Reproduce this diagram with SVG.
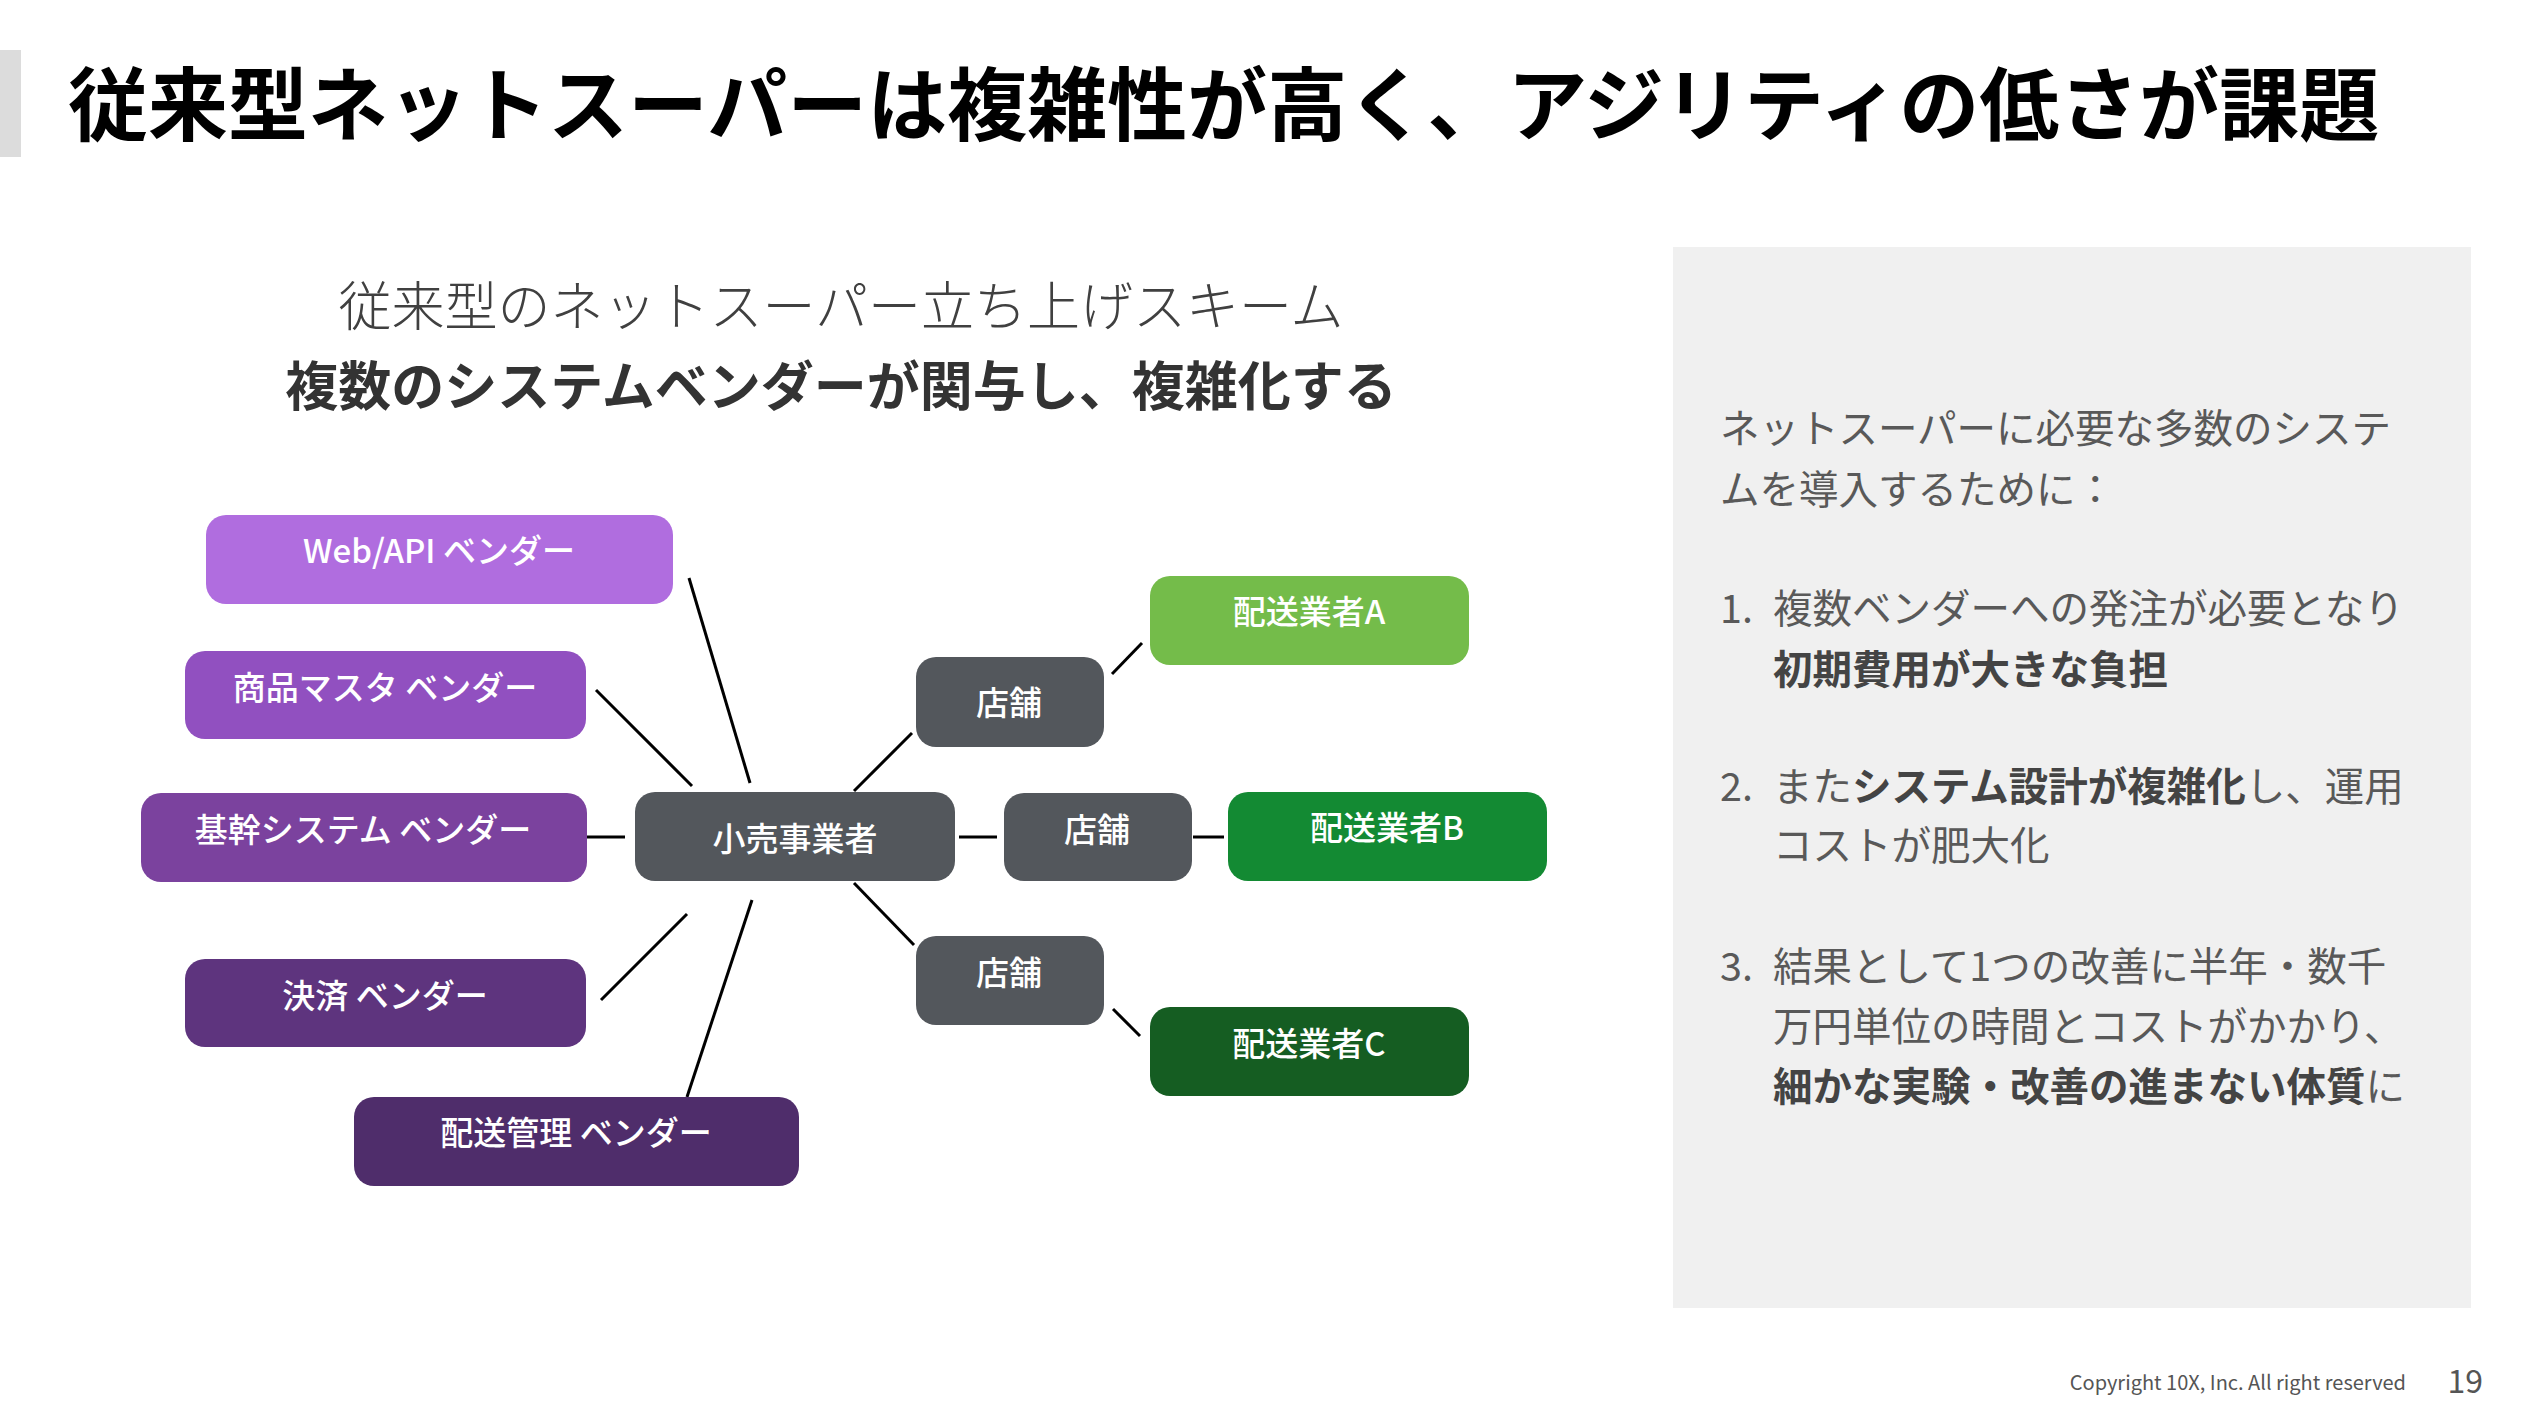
<svg xmlns="http://www.w3.org/2000/svg" width="2540" height="1426" viewBox="0 0 2540 1426">
<style>
text{font-family:"Noto Sans CJK JP","Noto Sans",sans-serif;}
.node{font-size:33px;font-weight:500;fill:#ffffff;text-anchor:middle;}
.conn line{stroke:#000000;stroke-width:3;}
.panel{font-size:39.5px;fill:#595959;}
.b{font-weight:700;fill:#444444;}
</style>
<rect width="2540" height="1426" fill="#ffffff"/>
<rect x="0" y="50" width="21" height="107" fill="#dcdcdc"/>
<text x="68" y="134" font-size="80" font-weight="700" fill="#000000">従来型ネットスーパーは複雑性が高く、アジリティの低さが課題</text>
<text x="841" y="326" font-size="53" font-weight="300" fill="#404040" text-anchor="middle">従来型のネットスーパー立ち上げスキーム</text>
<text x="841" y="406" font-size="53" font-weight="700" fill="#333333" text-anchor="middle">複数のシステムベンダーが関与し、複雑化する</text>

<g class="conn" id="connectors">
<line x1="689" y1="578" x2="750" y2="783"/>
<line x1="596" y1="690" x2="692" y2="786"/>
<line x1="587" y1="837" x2="625" y2="837"/>
<line x1="601" y1="1000" x2="687" y2="914"/>
<line x1="687" y1="1097" x2="752" y2="900"/>
<line x1="854" y1="791" x2="912" y2="733"/>
<line x1="1112" y1="674" x2="1142" y2="643"/>
<line x1="959" y1="837" x2="997" y2="837"/>
<line x1="1193" y1="837" x2="1224" y2="837"/>
<line x1="854" y1="883" x2="914" y2="945"/>
<line x1="1113" y1="1009" x2="1140" y2="1036"/>
</g>

<g id="web-api"><rect x="206" y="515" width="467" height="89" rx="20" fill="#b06ddf"/><text class="node" x="439" y="563">Web/API ベンダー</text></g>
<g id="shohin"><rect x="185" y="651" width="401" height="88" rx="20" fill="#9150c0"/><text class="node" x="385" y="700">商品マスタ ベンダー</text></g>
<g id="kikan"><rect x="141" y="793" width="446" height="89" rx="20" fill="#7b429e"/><text class="node" x="363" y="842">基幹システム ベンダー</text></g>
<g id="kessai"><rect x="185" y="959" width="401" height="88" rx="20" fill="#5e347e"/><text class="node" x="385" y="1008">決済 ベンダー</text></g>
<g id="haiso-kanri"><rect x="354" y="1097" width="445" height="89" rx="20" fill="#4f2d6b"/><text class="node" x="576" y="1145">配送管理 ベンダー</text></g>
<g id="kouri"><rect x="635" y="792" width="320" height="89" rx="20" fill="#53575c"/><text class="node" x="795" y="851">小売事業者</text></g>
<g id="tenpo1"><rect x="916" y="657" width="188" height="90" rx="20" fill="#53575c"/><text class="node" x="1009" y="715">店舗</text></g>
<g id="tenpo2"><rect x="1004" y="793" width="188" height="88" rx="20" fill="#53575c"/><text class="node" x="1097" y="842">店舗</text></g>
<g id="tenpo3"><rect x="916" y="936" width="188" height="89" rx="20" fill="#53575c"/><text class="node" x="1009" y="985">店舗</text></g>
<g id="haiso-a"><rect x="1150" y="576" width="319" height="89" rx="20" fill="#74bc4a"/><text class="node" x="1309" y="624">配送業者A</text></g>
<g id="haiso-b"><rect x="1228" y="792" width="319" height="89" rx="20" fill="#138a33"/><text class="node" x="1387" y="840">配送業者B</text></g>
<g id="haiso-c"><rect x="1150" y="1007" width="319" height="89" rx="20" fill="#155d22"/><text class="node" x="1309" y="1056">配送業者C</text></g>

<g id="panel">
<rect x="1673" y="247" width="798" height="1061" fill="#f0f0f0"/>
<text class="panel" x="1720" y="443">ネットスーパーに必要な多数のシステ</text>
<text class="panel" x="1720" y="504">ムを導入するために：</text>
<text class="panel" x="1720" y="623">1.</text>
<text class="panel" x="1773" y="623">複数ベンダーへの発注が必要となり</text>
<text class="panel b" x="1773" y="684">初期費用が大きな負担</text>
<text class="panel" x="1720" y="801">2.</text>
<text class="panel" x="1773" y="801">また<tspan class="b">システム設計が複雑化</tspan>し、運用</text>
<text class="panel" x="1773" y="860">コストが肥大化</text>
<text class="panel" x="1720" y="981">3.</text>
<text class="panel" x="1773" y="981">結果として1つの改善に半年・数千</text>
<text class="panel" x="1773" y="1041">万円単位の時間とコストがかかり、</text>
<text class="panel" x="1773" y="1101"><tspan class="b">細かな実験・改善の進まない体質</tspan>に</text>
</g>

<text x="2406" y="1390" font-size="20" fill="#555555" text-anchor="end">Copyright 10X, Inc. All right reserved</text>
<text x="2483" y="1393" font-size="32" fill="#555555" text-anchor="end">19</text>
</svg>
